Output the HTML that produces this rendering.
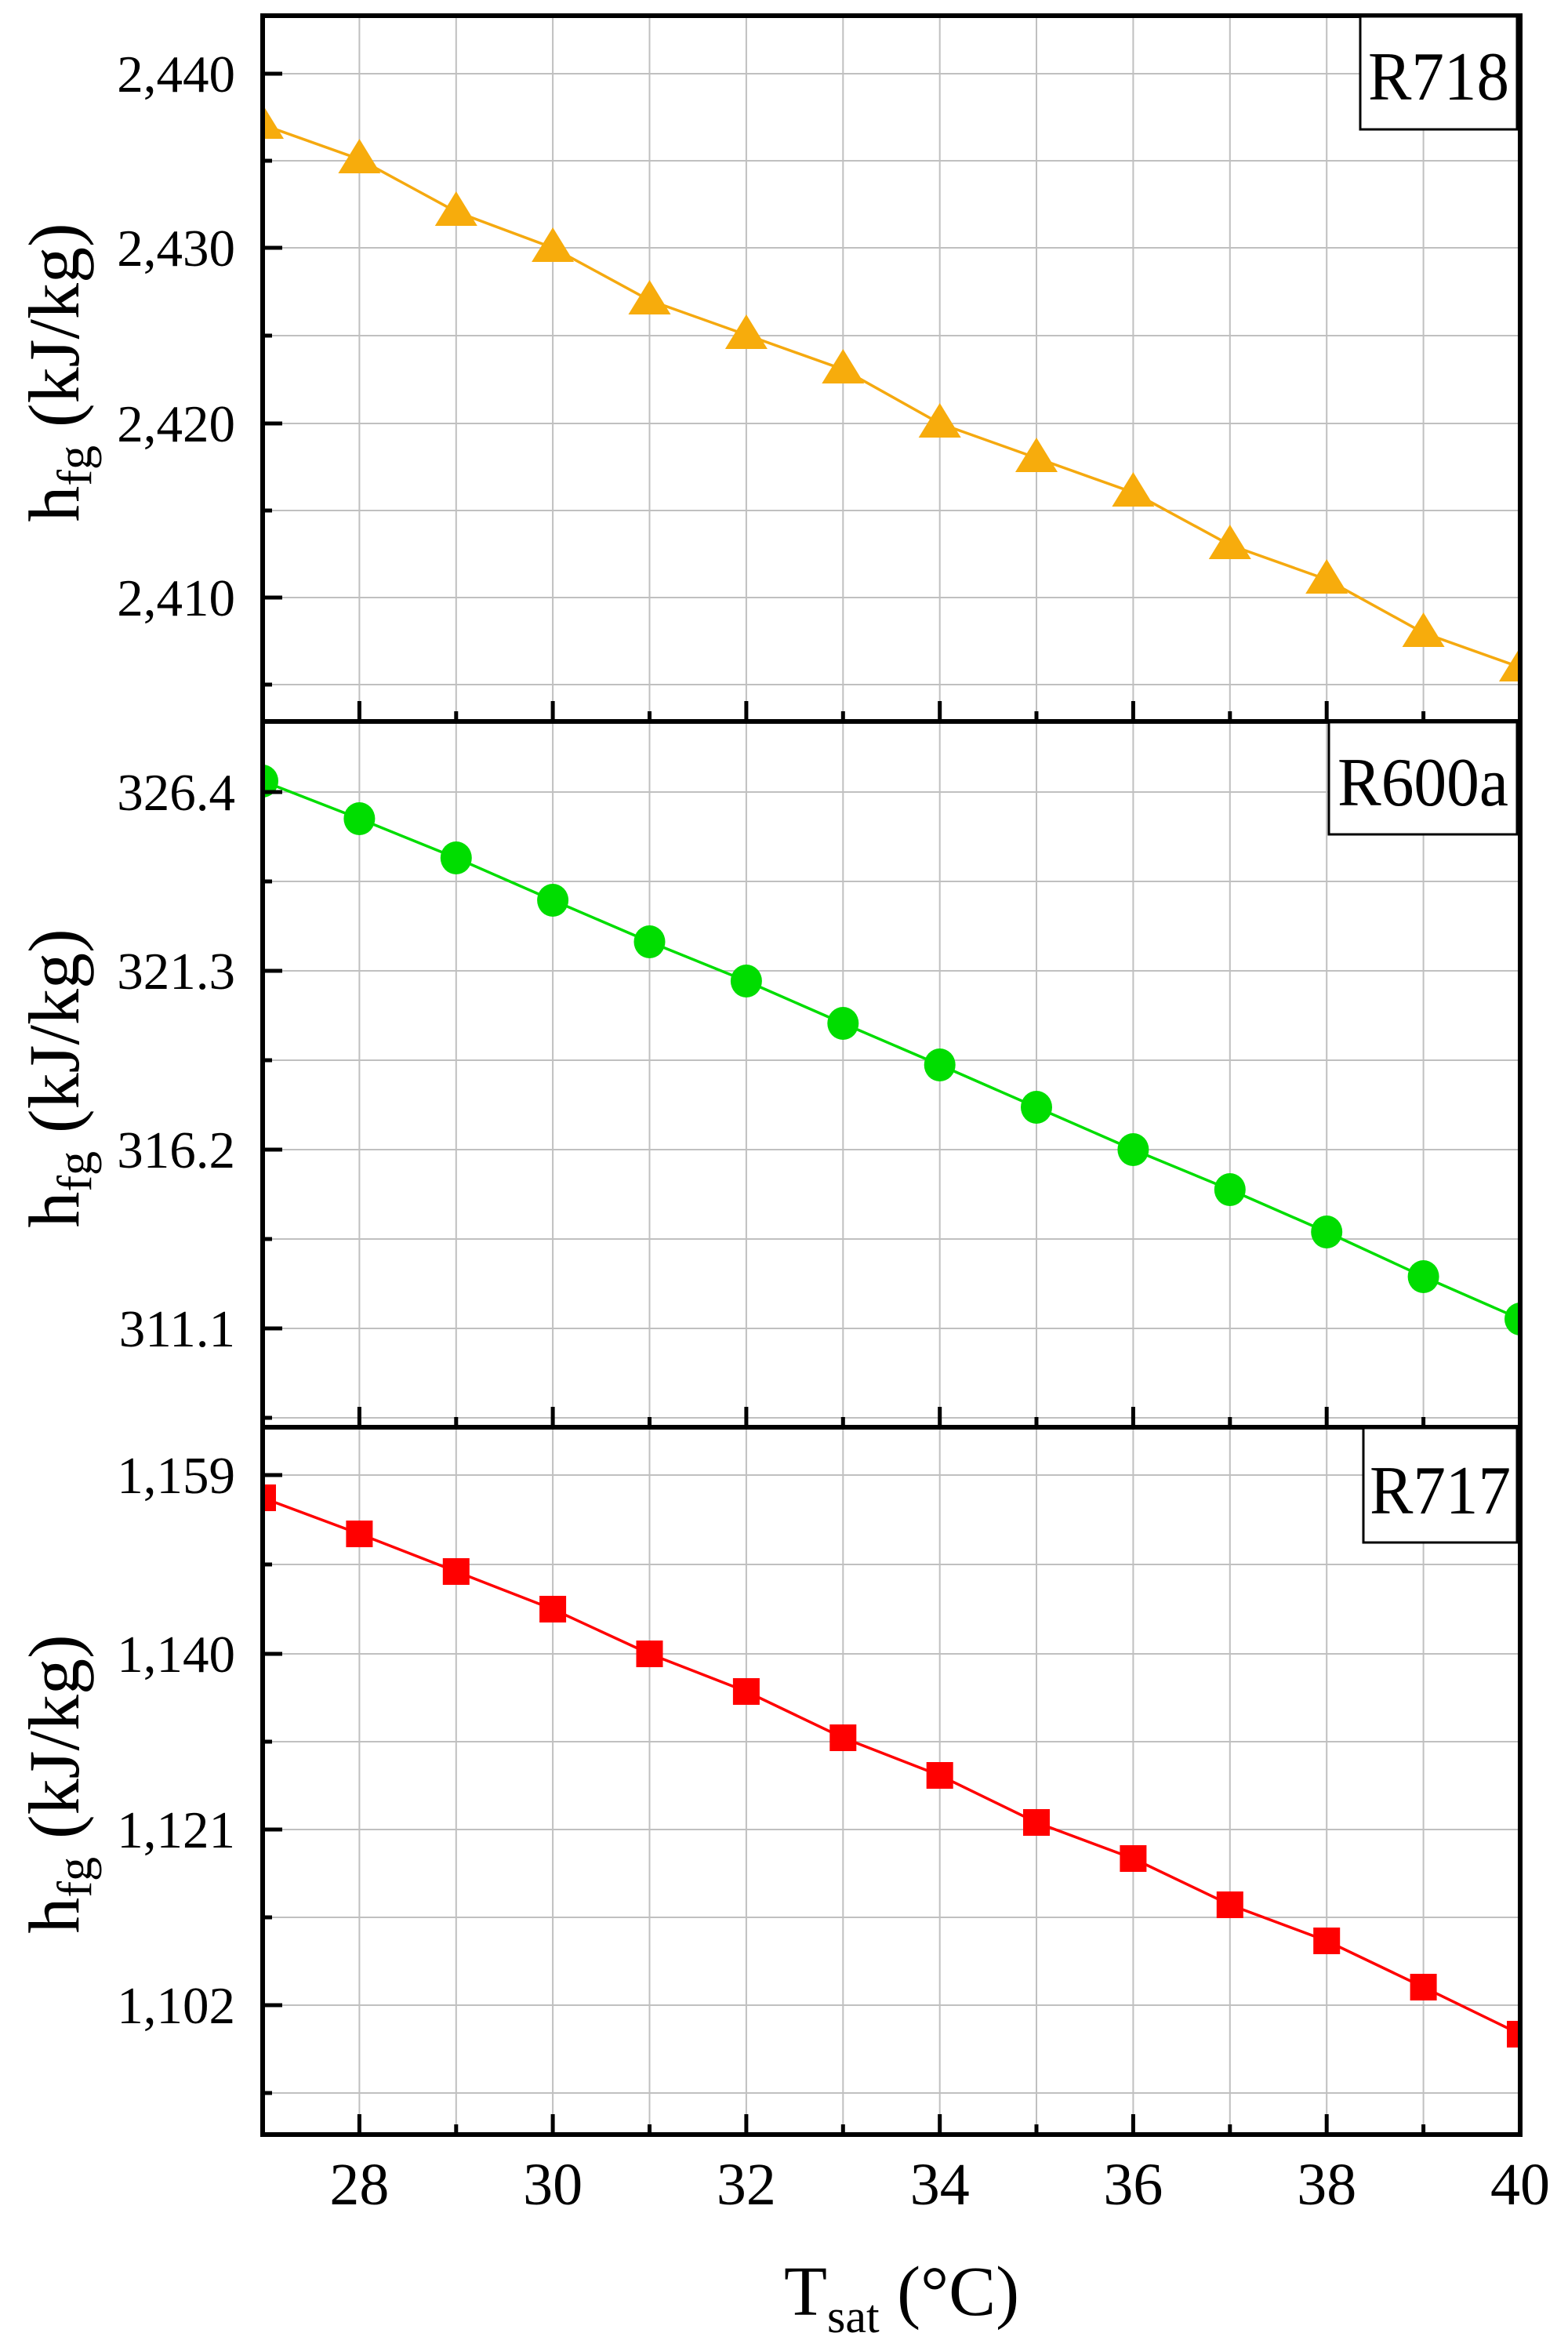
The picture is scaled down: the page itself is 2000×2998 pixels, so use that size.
<!DOCTYPE html>
<html><head><meta charset="utf-8"><style>
html,body{margin:0;padding:0;background:#fff;}
svg{display:block;}
text{font-family:"Liberation Serif",serif;fill:#000;}
</style></head><body>
<svg width="2000" height="2998" viewBox="0 0 2000 2998" xmlns="http://www.w3.org/2000/svg">
<defs>
<clipPath id="c1"><rect x="335" y="20" width="1604" height="900"/></clipPath>
<clipPath id="c2"><rect x="335" y="920" width="1604" height="900"/></clipPath>
<clipPath id="c3"><rect x="335" y="1820" width="1604" height="902"/></clipPath>
<path id="tri" d="M0,-26l27,44h-54z"/>
</defs>
<g stroke="#c0c0c0" stroke-width="2">
<path d="M458.4 20V2722M581.8 20V2722M705.1 20V2722M828.5 20V2722M951.9 20V2722M1075.3 20V2722M1198.7 20V2722M1322 20V2722M1445.4 20V2722M1568.8 20V2722M1692.2 20V2722M1815.6 20V2722"/>
<path d="M335 94H1939M335 205H1939M335 316H1939M335 428H1939M335 540H1939M335 651H1939M335 762H1939M335 873H1939"/>
<path d="M335 1010H1939M335 1124H1939M335 1238H1939M335 1352H1939M335 1466H1939M335 1580H1939M335 1694H1939M335 1808H1939"/>
<path d="M335 1881H1939M335 1995H1939M335 2109H1939M335 2221H1939M335 2333H1939M335 2445H1939M335 2557H1939M335 2669H1939"/>
</g>
<g clip-path="url(#c1)">
<polyline fill="none" stroke="#f5a90f" stroke-width="3.5" points="335,159 458.4,203 581.8,270 705.1,316 828.5,383 951.9,427 1075.3,471 1198.7,540 1322,584 1445.4,628 1568.8,695 1692.2,739 1815.6,807 1939,851"/>
<g fill="#f7ac0c">
<use href="#tri" x="335" y="159"/><use href="#tri" x="458.4" y="203"/><use href="#tri" x="581.8" y="270"/><use href="#tri" x="705.1" y="316"/><use href="#tri" x="828.5" y="383"/><use href="#tri" x="951.9" y="427"/><use href="#tri" x="1075.3" y="471"/><use href="#tri" x="1198.7" y="540"/><use href="#tri" x="1322" y="584"/><use href="#tri" x="1445.4" y="628"/><use href="#tri" x="1568.8" y="695"/><use href="#tri" x="1692.2" y="739"/><use href="#tri" x="1815.6" y="807"/><use href="#tri" x="1939" y="851"/>
</g></g>
<g clip-path="url(#c2)">
<polyline fill="none" stroke="#00dd00" stroke-width="3.5" points="335,996 458.4,1044 581.8,1094 705.1,1148 828.5,1201 951.9,1251 1075.3,1305 1198.7,1358 1322,1412 1445.4,1466 1568.8,1517 1692.2,1571 1815.6,1628 1939,1682"/>
<g fill="#00dd00">
<ellipse cx="335" cy="996" rx="20" ry="21"/><ellipse cx="458.4" cy="1044" rx="20" ry="21"/><ellipse cx="581.8" cy="1094" rx="20" ry="21"/><ellipse cx="705.1" cy="1148" rx="20" ry="21"/><ellipse cx="828.5" cy="1201" rx="20" ry="21"/><ellipse cx="951.9" cy="1251" rx="20" ry="21"/><ellipse cx="1075.3" cy="1305" rx="20" ry="21"/><ellipse cx="1198.7" cy="1358" rx="20" ry="21"/><ellipse cx="1322" cy="1412" rx="20" ry="21"/><ellipse cx="1445.4" cy="1466" rx="20" ry="21"/><ellipse cx="1568.8" cy="1517" rx="20" ry="21"/><ellipse cx="1692.2" cy="1571" rx="20" ry="21"/><ellipse cx="1815.6" cy="1628" rx="20" ry="21"/><ellipse cx="1939" cy="1682" rx="20" ry="21"/>
</g></g>
<g clip-path="url(#c3)">
<polyline fill="none" stroke="#ff0000" stroke-width="3.5" points="335,1910 458.4,1956 581.8,2004 705.1,2052 828.5,2109 951.9,2157 1075.3,2216 1198.7,2264 1322,2324 1445.4,2370 1568.8,2429 1692.2,2475 1815.6,2534 1939,2594"/>
<g fill="#ff0000">
<rect x="318" y="1893" width="34" height="34"/><rect x="441.4" y="1939" width="34" height="34"/><rect x="564.8" y="1987" width="34" height="34"/><rect x="688.1" y="2035" width="34" height="34"/><rect x="811.5" y="2092" width="34" height="34"/><rect x="934.9" y="2140" width="34" height="34"/><rect x="1058.3" y="2199" width="34" height="34"/><rect x="1181.7" y="2247" width="34" height="34"/><rect x="1305" y="2307" width="34" height="34"/><rect x="1428.4" y="2353" width="34" height="34"/><rect x="1551.8" y="2412" width="34" height="34"/><rect x="1675.2" y="2458" width="34" height="34"/><rect x="1798.6" y="2517" width="34" height="34"/><rect x="1922" y="2577" width="34" height="34"/>
</g></g>
<g stroke="#000" stroke-width="5">
<path d="M335 94h25M335 316h25M335 540h25M335 762h25M335 205h12M335 428h12M335 651h12M335 873h12"/>
<path d="M335 1010h25M335 1238h25M335 1466h25M335 1694h25M335 1124h12M335 1352h12M335 1580h12M335 1808h12"/>
<path d="M335 1881h25M335 2109h25M335 2333h25M335 2557h25M335 1995h12M335 2221h12M335 2445h12M335 2669h12"/>
<path d="M458.4 920v-26M705.1 920v-26M951.9 920v-26M1198.7 920v-26M1445.4 920v-26M1692.2 920v-26M581.8 920v-13M828.5 920v-13M1075.3 920v-13M1322 920v-13M1568.8 920v-13M1815.6 920v-13"/>
<path d="M458.4 1820v-26M705.1 1820v-26M951.9 1820v-26M1198.7 1820v-26M1445.4 1820v-26M1692.2 1820v-26M581.8 1820v-13M828.5 1820v-13M1075.3 1820v-13M1322 1820v-13M1568.8 1820v-13M1815.6 1820v-13"/>
<path d="M458.4 2722v-26M705.1 2722v-26M951.9 2722v-26M1198.7 2722v-26M1445.4 2722v-26M1692.2 2722v-26M581.8 2722v-13M828.5 2722v-13M1075.3 2722v-13M1322 2722v-13M1568.8 2722v-13M1815.6 2722v-13"/>
</g>
<g fill="none" stroke="#000" stroke-width="6">
<rect x="335" y="20" width="1604" height="2702"/>
<path d="M335 920H1939M335 1820H1939"/>
</g>
<g fill="#fff" stroke="#000" stroke-width="3">
<rect x="1735" y="21" width="200" height="144"/>
<rect x="1695" y="921" width="240" height="143"/>
<rect x="1739" y="1821" width="196" height="146"/>
</g>
<g font-size="88">
<text x="1835" y="127" text-anchor="middle" textLength="180" lengthAdjust="spacingAndGlyphs">R718</text>
<text x="1815" y="1027" text-anchor="middle" textLength="218" lengthAdjust="spacingAndGlyphs">R600a</text>
<text x="1837" y="1930" text-anchor="middle" textLength="180" lengthAdjust="spacingAndGlyphs">R717</text>
</g>
<g font-size="67" text-anchor="end">
<text x="300" y="117">2,440</text><text x="300" y="339">2,430</text><text x="300" y="563">2,420</text><text x="300" y="785">2,410</text>
<text x="300" y="1033">326.4</text><text x="300" y="1261">321.3</text><text x="300" y="1489">316.2</text><text x="300" y="1717">311.1</text>
<text x="300" y="1904">1,159</text><text x="300" y="2132">1,140</text><text x="300" y="2356">1,121</text><text x="300" y="2580">1,102</text>
</g>
<g font-size="92">
<text transform="translate(100,475) rotate(-90)" text-anchor="middle">h<tspan font-size="62" dy="16">fg</tspan><tspan dy="-16"> (kJ/kg)</tspan></text>
<text transform="translate(100,1375) rotate(-90)" text-anchor="middle">h<tspan font-size="62" dy="16">fg</tspan><tspan dy="-16"> (kJ/kg)</tspan></text>
<text transform="translate(100,2275) rotate(-90)" text-anchor="middle">h<tspan font-size="62" dy="16">fg</tspan><tspan dy="-16"> (kJ/kg)</tspan></text>
</g>
<g font-size="76" text-anchor="middle">
<text x="458.4" y="2811">28</text><text x="705.1" y="2811">30</text><text x="951.9" y="2811">32</text><text x="1198.7" y="2811">34</text><text x="1445.4" y="2811">36</text><text x="1692.2" y="2811">38</text><text x="1939" y="2811">40</text>
</g>
<text x="1000" y="2952" font-size="90">T<tspan font-size="60" dy="22">sat</tspan><tspan dy="-22"> (°C)</tspan></text>
</svg>
</body></html>
